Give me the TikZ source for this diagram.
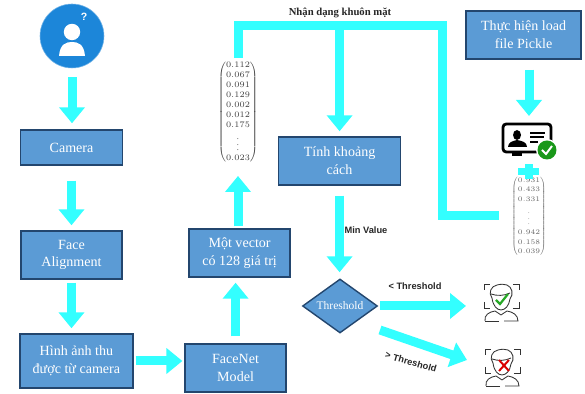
\documentclass[tikz,border=0pt]{standalone}
\usepackage{amsmath}
\usepackage{fontspec}
\setmainfont{Liberation Serif}
\newfontfamily\labelfont{Liberation Sans}
\usetikzlibrary{shapes.geometric,arrows.meta,positioning,calc}
\definecolor{flowcol}{HTML}{33FFFF}
\definecolor{boxfill}{HTML}{5B9BD5}
\definecolor{boxline}{HTML}{23466E}
\definecolor{iconblue}{HTML}{1C86D9}
\definecolor{iconshade}{HTML}{1767AE}
\tikzset{
	box/.style={draw=boxline, line width=1pt, fill=boxfill, text=white, align=center, inner sep=0pt, font=\fontsize{10}{12.6}\selectfont},
	flow/.style={draw=flowcol, line width=.225cm, -{Triangle[width=.625cm,length=.4cm]}},
	flowline/.style={draw=flowcol, line width=.225cm, miter limit=10},
	smalllabel/.style={font=\labelfont\bfseries\fontsize{6.6}{8}\selectfont, text=black!85, inner sep=0pt},
	facepic/.pic={
		\begin{scope}[x=.025cm,y=-.025cm,draw=black!80,line width=.6pt]
			\draw (-17,-13) -- (-17,-19) -- (-11,-19);
			\draw (12,-19) -- (18,-19) -- (18,-13);
			\draw (-17,-1) -- (-17,5) -- (-11,5);
			\draw (12,5) -- (18,5) -- (18,-1);
			\draw (-9,-5) .. controls (-13,-10) and (-10,-17) .. (-4,-18) .. controls (0,-19) and (3,-19) .. (6,-18) .. controls (11,-16) and (13,-9) .. (9,-4);
			\draw (-10,-9) .. controls (-4,-7) and (3,-7) .. (9,-10);
			\draw (-9,-5) .. controls (-8,3) and (-4,7) .. (0,7) .. controls (4,7) and (8,3) .. (9,-4);
			\draw (-16,18) .. controls (-17,12) and (-12,9) .. (-6,8) -- (0,12) -- (6,8) .. controls (12,9) and (17,12) .. (17,18) -- (3,18);
			\draw (-2,18) -- (-16,18);
		\end{scope}
	}
}
\begin{document}
\begin{tikzpicture}
	\useasboundingbox (0,0) rectangle (14.625,9.85);

	\node (U) [circle, fill=iconblue, draw=iconblue!60, inner sep=0pt, minimum size=1.6cm, path picture={
		\fill[iconshade] (1.55,8.95) -- (2.05,8.7) -- (2.2,8.4) -- (1.95,7.9) -- (1.8,8.1) -- (1.3,8.0) -- (1.25,7.9) -- (1.6,7.5) -- (2.4,7.6) -- (2.4,8.4) -- cycle;
	}] at (1.8,8.95) {};
	\fill[white] (1.8,9.05) circle (.205);
	\fill[white] (1.475,8.45) .. controls (1.5,8.75) and (1.65,8.8) .. (1.8,8.8) .. controls (1.95,8.8) and (2.1,8.75) .. (2.125,8.45) -- cycle;
	\node (Q1) [text=white, inner sep=0pt, font=\labelfont\bfseries\fontsize{7.5}{8}\selectfont] at (2.1,9.42) {?};

	\node (C) [box, minimum width=2.55cm, minimum height=.875cm] at (1.7875,6.1625) {Camera};
	\node (F) [box, minimum width=2.53cm, minimum height=1.2cm] at (1.7875,3.475) {Face\\Alignment};
	\node (H) [box, minimum width=2.825cm, minimum height=1.35cm] at (1.91,.825) {Hình ảnh thu\\được từ camera};
	\node (N) [box, minimum width=2.525cm, minimum height=1.2cm] at (5.89,.65) {FaceNet\\Model};
	\node (V) [box, minimum width=2.525cm, minimum height=1.2cm] at (5.99,3.525) {Một vector\\có 128 giá trị};
	\node (T) [box, minimum width=3.05cm, minimum height=1.2cm] at (8.49,5.825) {Tính khoảng\\cách};
	\node (Q) [box, minimum width=2.875cm, minimum height=1.2cm] at (13.09,8.975) {Thực hiện load\\file Pickle};
	\node (D) [box, diamond, aspect=1.39, minimum width=1.875cm, minimum height=1.35cm, font=\fontsize{8.2}{10}\selectfont] at (8.5,2.2) {Threshold};

	\node (M) [inner sep=0pt, text=black!75, font=\fontsize{5.9}{7.1}\selectfont] at (5.95,7.05) {$\left(\begin{array}{@{}c@{}}0.112\\0.067\\0.091\\0.129\\0.002\\0.012\\0.175\\\vdots\\0.023\end{array}\right)$};
	\node (R) [inner sep=0pt, text=black!60, font=\fontsize{4.4}{6.9}\selectfont] at (13.225,4.45) {$\left(\begin{array}{@{}c@{}}0.931\\0.433\\0.331\\\vdots\\0.942\\0.158\\0.039\end{array}\right)$};

	\coordinate (P) at (11.05,9.2);
	\coordinate (K) at (13.225,6.95);
	\coordinate (G) at (11.65,2.2);
	\coordinate (D2) at (9.5,1.6);
	\coordinate (X) at (11.675,.85);

	\draw [flow, shorten <=.225cm, shorten >=.15cm] (U.south) to (U.south |- C.north);
	\draw [flow, shorten <=.375cm, shorten >=.125cm] (C.south) to (C.south |- F.north);
	\draw [flow, shorten <=.075cm, shorten >=.125cm] (F.south) to (F.south |- H.north);
	\draw [flow, shorten <=.05cm, shorten >=.05cm] (H.east) to (H.east -| N.west);
	\draw [flow, shorten <=.175cm, shorten >=.125cm] (N.north) to (N.north |- V.south);
	\draw [flow, shorten <=.05cm, shorten >=.3cm] (M.south |- V.north) to (M.south);
	\draw [flowline, shorten <=.05cm, shorten >=.3cm] (M.north) |- (P) |- (R.west);
	\draw [flow, shorten >=.125cm] (T.north |- P) to (T.north);
	\draw [flow, shorten <=.25cm, shorten >=.15cm] (T.south) to (T.south |- D.north);
	\draw [flow, shorten <=.05cm] (D.east) to (G);
	\draw [flow] (D2) to (X);
	\draw [flow, shorten <=.25cm] (K |- Q.south) to (K);

	\fill [flowcol] (12.95,5.475) rectangle (13.475,5.65);
	\fill [flowcol] (13.125,5.375) rectangle (13.325,5.75);

	\node (L1) [inner sep=0pt, text=black!85, font=\bfseries\fontsize{7.6}{9}\selectfont] at (8.5,9.52) {Nhận dạng khuôn mặt};
	\node (L2) [smalllabel] at (9.15,4.1) {Min Value};
	\node (L3) [smalllabel] at (10.375,2.69) {< Threshold};
	\node (L4) [smalllabel, rotate=-16] at (10.275,.8) {> Threshold};

	% id card
	\begin{scope}[shift={(13.175,6.4)},x=.025cm,y=-.025cm]
		\draw [line width=2pt, rounded corners=.08cm] (-24,-14) rectangle (24,14);
		\fill (-15,14) rectangle (-5,18);
		\fill (-10,-3) ellipse (4 and 5);
		\fill (-19,9) .. controls (-19,4) and (-14,3) .. (-10,2) .. controls (-5,3) and (0,4) .. (0,9) -- cycle;
		\draw [line width=1pt] (3,-5) -- (18,-5) (3,-1) -- (17,-1) (3,4) -- (11,4);
		\fill [white] (20,12) circle (11);
		\fill [green!55!black!90] (20,12) circle (9.5);
		\draw [white, line width=1.4pt] (15,12) -- (19,16) -- (25,8);
	\end{scope}

	\pic at (12.525,2.275) {facepic};
	\draw [green!60!black!85, line width=1.6pt] (12.4,2.35) -- (12.5,2.25) -- (12.7,2.5);
	\pic at (12.55,.65) {facepic};
	\draw [red!85!black, line width=1.4pt] (12.475,.85) -- (12.725,.575) (12.475,.575) -- (12.725,.85);
\end{tikzpicture}
\end{document}
